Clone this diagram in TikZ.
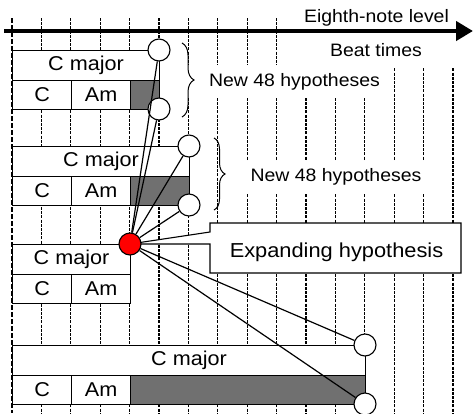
\documentclass[tikz,border=0pt]{standalone}
\usepackage{fontspec}
\setmainfont{Liberation Sans}[FakeStretch=1.08]
\usetikzlibrary{arrows.meta,calc,decorations.pathreplacing}
\definecolor{boxgray}{RGB}{112,112,112}
\begin{document}
\begin{tikzpicture}[x=1pt,y=-1pt,
  grid/.style={line width=1.2pt, dash pattern=on 3pt off 1.2pt},
  gridleft/.style={line width=2.4pt, dash pattern=on 5pt off 2pt},
  chord/.style={draw=black, line width=1.1pt, fill=white, inner sep=0pt, anchor=north west, minimum height=29.5pt, font=\fontsize{20}{24}\selectfont},
  hyp/.style={circle, draw=black, line width=1.1pt, fill=white, minimum size=22pt, inner sep=0pt},
  lbl/.style={fill=white, inner sep=0pt, font=\fontsize{18}{21}\selectfont},
  conn/.style={line width=1.2pt, black},
  brc/.style={decorate, line width=1pt}]
\useasboundingbox (0,0) rectangle (474,413);
% beat grid
\foreach \i in {1,...,15} \draw[grid] ({12+29.4*\i},18) -- ({12+29.4*\i},413);
\draw[gridleft] (12,18) -- (12,413);
% labels
\node[lbl, minimum width=170pt, minimum height=25pt] (eighth) at (376.5,17.5) {Eighth-note level};
\node[lbl, minimum width=170pt, minimum height=34pt] (beat) at (376,50) {Beat times};
\node[lbl, minimum width=206pt, minimum height=33pt] (new1) at (289,81.5) {\hspace*{11pt}New 48 hypotheses};
\node[lbl, minimum width=222pt, minimum height=33pt] (new2) at (336,177) {New 48 hypotheses};
% time axis
\coordinate (as) at (4,31);
\coordinate (ae) at (473,31);
\draw[line width=4.5pt, -{Triangle[length=17pt,width=19pt]}] (as) -- (ae);
% braces
\draw[brc, decoration={brace, amplitude=12pt}] (182,43) -- (182,117);
\draw[brc, decoration={brace, amplitude=11pt}] (214,138) -- (214,210);
% group 1
\node[chord, minimum width=147pt] (g1maj) at (12,50) {C major};
\node[chord, minimum width=59pt] (g1c) at (12,79.5) {C};
\node[chord, minimum width=59pt] (g1am) at (71,79.5) {Am};
\node[chord, minimum width=29pt, fill=boxgray] (g1x) at (130,79.5) {};
\node[hyp] (h1a) at (159,50) {};
\node[hyp] (h1b) at (159,109) {};
% group 2
\node[chord, minimum width=177pt] (g2maj) at (12,146) {C major};
\node[chord, minimum width=59pt] (g2c) at (12,175.5) {C};
\node[chord, minimum width=59pt] (g2am) at (71,175.5) {Am};
\node[chord, minimum width=59pt, fill=boxgray] (g2x) at (130,175.5) {};
\node[hyp] (h2a) at (189,146) {};
\node[hyp] (h2b) at (189,205) {};
% group 3
\node[chord, minimum width=118pt] (g3maj) at (12,244) {C major};
\node[chord, minimum width=59pt] (g3c) at (12,273.5) {C};
\node[chord, minimum width=59pt] (g3am) at (71,273.5) {Am};
% group 4
\node[chord, minimum width=353pt] (g4maj) at (12,345) {C major};
\node[chord, minimum width=59pt] (g4c) at (12,374.5) {C};
\node[chord, minimum width=59pt] (g4am) at (71,374.5) {Am};
\node[chord, minimum width=235pt, fill=boxgray] (g4x) at (130,374.5) {};
\node[hyp] (h4a) at (365,345) {};
\node[hyp] (h4b) at (365,404) {};
% callout
\coordinate (rc) at (130,244);
\coordinate (cnw) at (210,223);
\coordinate (cse) at (461,273);
\draw[draw=black, line width=1.1pt, fill=white] (cnw) -| (cse) -| ($(cnw)+(0,21)$) -- (rc) -- ($(cnw)+(0,9)$) -- cycle;
\node[inner sep=0pt, font=\fontsize{20.2}{24}\selectfont] (exp) at (336.5,252) {Expanding hypothesis};
\node[hyp, fill=red] (red) at (rc) {};
% connectors
\foreach \t in {h1a,h1b,h2a,h2b,h4a,h4b} \draw[conn] (red) -- (\t);
\end{tikzpicture}
\end{document}
